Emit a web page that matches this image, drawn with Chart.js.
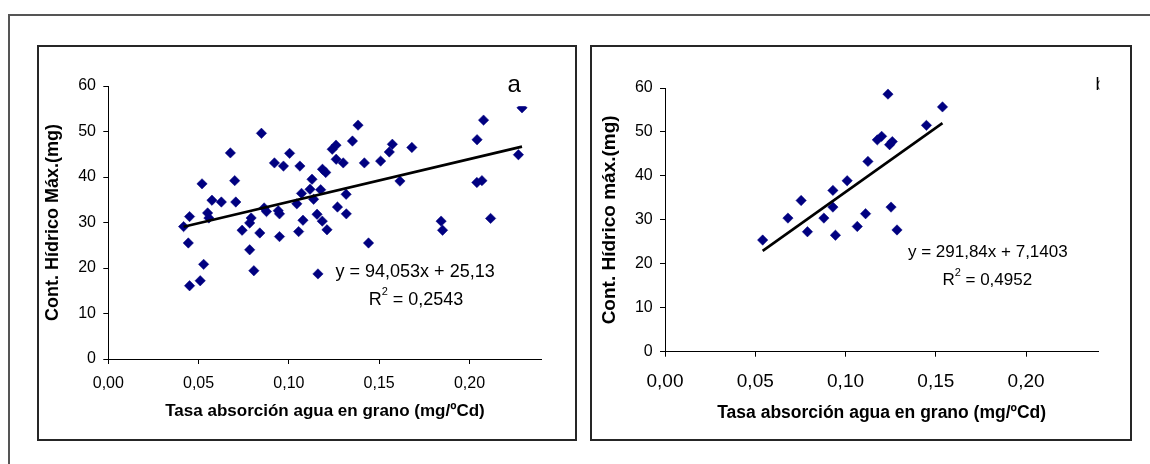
<!DOCTYPE html>
<html lang="es">
<head>
<meta charset="utf-8">
<title>Contenido hídrico máximo vs tasa de absorción de agua</title>
<script src="https://cdn.jsdelivr.net/npm/chart.js@4.4.1/dist/chart.umd.min.js"></script>
<style>
  html, body { margin: 0; padding: 0; background: #fff; }
  body { width: 1150px; height: 464px; position: relative; overflow: hidden; }
  .frame { position: absolute; left: 8px; top: 14px; width: 1200px; height: 500px; border-top: 2px solid #555; border-left: 2px solid #555; }
  .panel { position: absolute; top: 45px; height: 396px; box-sizing: border-box; border: 2px solid #262626; }
  #panelA { left: 37px; width: 540px; }
  #panelB { left: 590px; width: 542px; }
  canvas { position: absolute; top: 47px; }
  #chartA { left: 39px; }
  #chartB { left: 592px; }
</style>
</head>
<body>
<div class="frame"></div>
<div class="panel" id="panelA"></div>
<div class="panel" id="panelB"></div>
<canvas id="chartA" width="536" height="392"></canvas>
<canvas id="chartB" width="538" height="392"></canvas>
<script>
// Panel a: tasa de absorción (mg/ºCd) y contenido hídrico máximo (mg)
const absorcionA = [
  0.0417, 0.0450, 0.0443, 0.0450, 0.0519, 0.0528, 0.0509, 0.0550, 0.0557, 0.0574,
  0.0626, 0.0676, 0.0700, 0.0706, 0.0741, 0.0783, 0.0791, 0.0783, 0.0806, 0.0839,
  0.0848, 0.0863, 0.0876, 0.0920, 0.0941, 0.0948, 0.0948, 0.0970, 0.1004, 0.1044,
  0.1054, 0.1061, 0.1070, 0.1078, 0.1128, 0.1117, 0.1137, 0.1156, 0.1161, 0.1176,
  0.1185, 0.1186, 0.1204, 0.1211, 0.1240, 0.1261, 0.1262, 0.1269, 0.1301, 0.1317,
  0.1318, 0.1352, 0.1383, 0.1418, 0.1441, 0.1508, 0.1556, 0.1573, 0.1615, 0.1681,
  0.1843, 0.1851, 0.2042, 0.2078, 0.2041, 0.2069, 0.2117, 0.2271, 0.2291
];
const contenidoA = [
  29.1, 31.3, 25.5, 16.1, 38.5, 20.8, 17.2, 32.1, 31.0, 34.9,
  34.5, 45.3, 39.2, 34.5, 28.3, 24.0, 31.0, 29.9, 19.4, 27.7,
  49.6, 33.2, 32.4, 43.1, 32.6, 31.9, 26.9, 42.4, 45.2, 34.1,
  28.0, 42.4, 36.4, 30.5, 39.5, 37.3, 35.1, 31.8, 18.7, 37.2,
  30.3, 41.7, 41.0, 28.4, 46.1, 47.0, 43.9, 33.4, 43.1, 36.2,
  31.9, 47.9, 51.4, 43.1, 25.5, 43.5, 45.5, 47.2, 39.1, 46.5,
  30.3, 28.3, 48.2, 52.5, 38.8, 39.2, 30.9, 44.9, 55.2
];
const slopeA = 94.053;
const interceptA = 25.13;
const r2A = 0.2543;

// Panel b
const absorcionB = [
  0.0541, 0.0681, 0.0754, 0.0789, 0.0880, 0.0930, 0.0930, 0.0944, 0.1009, 0.1065,
  0.1111, 0.1124, 0.1176, 0.1200, 0.1235, 0.1244, 0.1259, 0.1252, 0.1285, 0.1448,
  0.1537
];
const contenidoB = [
  25.4, 30.4, 34.4, 27.3, 30.4, 36.7, 32.9, 26.5, 38.9, 28.5,
  31.4, 43.3, 48.2, 49.0, 58.6, 47.1, 47.8, 32.9, 27.7, 51.5,
  55.7
];
const slopeB = 291.84;
const interceptB = 7.1403;
const r2B = 0.4952;

const xTicks = [0, 0.05, 0.10, 0.15, 0.20];
const yTicks = [0, 10, 20, 30, 40, 50, 60];

const FONT = "'Liberation Sans', Arial, sans-serif";
const NAVY = '#000080';

const coma = v => String(v).replace('.', ',');

function trendPoints(xs, slope, intercept) {
  const lo = Math.min(...xs), hi = Math.max(...xs);
  return [
    { x: lo, y: slope * lo + intercept },
    { x: hi, y: slope * hi + intercept },
  ];
}

// draws the regression equation, R² and the panel letter
const notes = {
  id: 'notes',
  afterDatasetsDraw(chart, args, o) {
    const { ctx, scales: { x, y }, chartArea } = chart;
    ctx.save();
    ctx.fillStyle = '#000';
    ctx.textBaseline = 'middle';

    ctx.font = `${o.size}px ${FONT}`;
    ctx.textAlign = 'center';
    ctx.fillText(o.equation, x.getPixelForValue(o.eqAt[0]), y.getPixelForValue(o.eqAt[1]));

    // R² with a raised 2
    const rest = ' = ' + o.r2;
    const supFont = `${Math.round(o.size * 0.62)}px ${FONT}`;
    const wR = ctx.measureText('R').width;
    const wRest = ctx.measureText(rest).width;
    ctx.font = supFont;
    const wSup = ctx.measureText('2').width;
    let cx = x.getPixelForValue(o.r2At[0]) - (wR + wSup + wRest) / 2;
    const cy = y.getPixelForValue(o.r2At[1]);
    ctx.textAlign = 'left';
    ctx.font = `${o.size}px ${FONT}`;
    ctx.fillText('R', cx, cy);
    ctx.font = supFont;
    ctx.fillText('2', cx + wR, cy - o.size * 0.42);
    ctx.font = `${o.size}px ${FONT}`;
    ctx.fillText(rest, cx + wR + wSup, cy);

    // panel letter
    const lx = x.getPixelForValue(o.letterAt[0]);
    const ly = y.getPixelForValue(o.letterAt[1]);
    if (o.letterBox) {
      ctx.fillStyle = '#fff';
      ctx.fillRect(lx - 13, ly - 19, 26, 39.5);
      ctx.fillStyle = '#000';
    }
    ctx.font = `${o.letterSize}px ${FONT}`;
    ctx.textAlign = o.letterAlign;
    ctx.textBaseline = o.letterBaseline;
    ctx.beginPath();
    ctx.rect(0, 0, chartArea.right + 1.2, chart.height);
    ctx.clip();
    ctx.fillText(o.letter, lx, ly);
    ctx.restore();
  },
};

function makeChart(el, cfg) {
  return new Chart(el, {
    type: 'scatter',
    data: {
      datasets: [
        {
          data: trendPoints(cfg.xs, cfg.slope, cfg.intercept),
          showLine: true,
          borderColor: '#000',
          borderWidth: 2.6,
          pointRadius: 0,
          order: 0,
        },
        {
          data: cfg.xs.map((v, i) => ({ x: v, y: cfg.ys[i] })),
          pointStyle: 'rectRot',
          pointRadius: 5.2,
          backgroundColor: NAVY,
          borderColor: NAVY,
          borderWidth: 0.5,
          order: 1,
        },
      ],
    },
    options: {
      responsive: false,
      animation: false,
      devicePixelRatio: 1,
      layout: { padding: cfg.padding },
      plugins: {
        legend: { display: false },
        tooltip: { enabled: false },
        notes: cfg.notes,
      },
      scales: {
        x: {
          type: 'linear',
          min: 0,
          max: 0.24,
          afterFit: s => { s.height = cfg.xHeight; },
          afterBuildTicks: s => { s.ticks = xTicks.map(v => ({ value: v })); },
          grid: { display: true, drawOnChartArea: false, drawTicks: true, tickLength: 5, color: '#000' },
          border: { display: true, color: '#000', width: 1 },
          ticks: {
            padding: cfg.xTickPad,
            color: '#000',
            maxRotation: 0,
            font: { family: FONT, size: cfg.xTickSize },
            callback: v => v.toFixed(2).replace('.', ','),
          },
          title: {
            display: true,
            text: 'Tasa absorción agua en grano (mg/ºCd)',
            color: '#000',
            font: { family: FONT, size: cfg.xTitleSize, weight: 'bold' },
            padding: { top: 0, bottom: cfg.xTitlePad },
          },
        },
        y: {
          type: 'linear',
          min: 0,
          max: 60,
          afterFit: s => { s.width = cfg.yWidth; },
          afterBuildTicks: s => { s.ticks = yTicks.map(v => ({ value: v })); },
          grid: { display: true, drawOnChartArea: false, drawTicks: true, tickLength: 5, color: '#000' },
          border: { display: true, color: '#000', width: 1 },
          ticks: {
            padding: 7.3,
            color: '#000',
            font: { family: FONT, size: 16 },
          },
          title: {
            display: true,
            text: cfg.yTitle,
            color: '#000',
            font: { family: FONT, size: cfg.yTitleSize, weight: 'bold' },
            padding: { top: cfg.yTitlePad, bottom: 0 },
          },
        },
      },
    },
    plugins: [notes],
  });
}

makeChart(document.getElementById('chartA'), {
  xs: absorcionA,
  ys: contenidoA,
  slope: slopeA,
  intercept: interceptA,
  padding: { left: 0, top: 39, right: 33.3, bottom: 0 },
  yWidth: 69.3,
  xHeight: 80,
  xTickPad: 10.4,
  xTickSize: 16,
  xTitlePad: 17.3,
  yTitlePad: 3.0,
  xTitleSize: 17,
  yTitleSize: 18,
  yTitle: 'Cont. Hídrico Máx.(mg)',
  notes: {
    size: 18,
    equation: `y = ${coma(slopeA)}x + ${coma(interceptA)}`,
    r2: coma(r2A),
    eqAt: [0.1699, 19.2],
    r2At: [0.1704, 13.0],
    letter: 'a',
    letterSize: 24,
    letterAt: [0.2248, 60.07],
    letterAlign: 'center',
    letterBaseline: 'middle',
    letterBox: true,
  },
});

makeChart(document.getElementById('chartB'), {
  xs: absorcionB,
  ys: contenidoB,
  slope: slopeB,
  intercept: interceptB,
  padding: { left: 0, top: 41, right: 31.7, bottom: 0 },
  yWidth: 73,
  xHeight: 87.3,
  xTickPad: 13.9,
  xTickSize: 19,
  xTitlePad: 15.2,
  yTitlePad: 6.3,
  xTitleSize: 17.5,
  yTitleSize: 19,
  yTitle: 'Cont. Hídrico máx.(mg)',
  notes: {
    size: 17,
    equation: `y = ${coma(slopeB)}x + ${coma(interceptB)}`,
    r2: coma(r2B),
    eqAt: [0.1788, 22.7],
    r2At: [0.1785, 16.2],
    letter: 'b',
    letterSize: 18,
    letterAt: [0.2385, 59.6],
    letterAlign: 'left',
    letterBaseline: 'alphabetic',
    letterBox: false,
  },
});
</script>
</body>
</html>
